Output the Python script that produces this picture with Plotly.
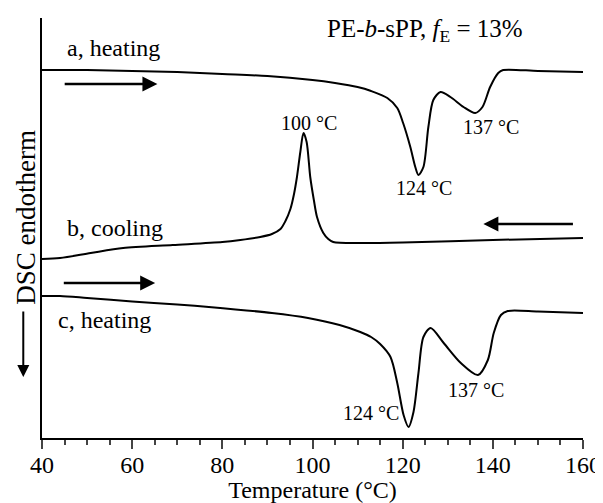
import plotly.graph_objects as go

# Curve a (heating) - temperature (°C) and DSC signal (arbitrary units)
a_T = [40, 50, 60, 70, 80, 90, 100, 105, 110, 113, 116.6, 118.8, 120.1, 121.7, 122.8, 123.5,
       124.6, 125.7, 126.8, 128.4, 130.6, 133.5, 136.1, 137.7, 139.4, 141.2, 142.3, 150, 160]
a_Y = [36.8, 36.8, 36.7, 36.6, 36.4, 36.2, 35.8, 35.5, 35.1, 34.7, 34.0, 33.0, 31.5, 29.1, 27.1, 26.3,
       27.1, 31.1, 33.8, 34.6, 34.1, 33.1, 32.5, 33.1, 35.1, 36.5, 36.8, 36.7, 36.6]

# Curve b (cooling)
b_T = [40, 44, 50.8, 58, 69, 80, 84, 88.4, 91, 92.9, 94, 95.1, 95.9, 96.55, 97.3, 98.0, 98.7, 99.5,
       100.3, 101, 102.4, 103.5, 104.6, 110.6, 120, 140, 160]
b_Y = [17.9, 18.0, 18.5, 19.0, 19.3, 19.6, 19.8, 20.1, 20.4, 20.9, 21.7, 22.9, 24.4, 26.1, 28.6, 30.5,
       29.6, 26.1, 23.8, 22.1, 20.5, 19.9, 19.6, 19.5, 19.55, 19.8, 20.0]

# Curve c (heating)
c_T = [40, 44, 50, 60, 70, 77, 91, 99, 106, 110.6, 113, 115, 117.3, 118.8, 120.2, 121.3, 122.4, 123.5,
       124.6, 126.2, 129.1, 132.9, 136.7, 138.9, 140.2, 141.8, 143.3, 150, 160]
c_Y = [14.2, 14.2, 14.0, 13.65, 13.35, 13.1, 12.5, 12.0, 11.3, 10.6, 10.1, 9.4, 8.1, 5.5, 2.3, 1.1, 2.6,
       6.5, 10.1, 11.0, 9.5, 7.5, 6.3, 7.8, 10.5, 12.3, 12.7, 12.65, 12.5]

x_ticks = [40, 60, 80, 100, 120, 140, 160]

FONT = "Liberation Serif"

fig = go.Figure()
for T, Y in [(a_T, a_Y), (b_T, b_Y), (c_T, c_Y)]:
    fig.add_trace(go.Scatter(x=T, y=Y, mode="lines",
                             line=dict(color="black", width=2, shape="spline", smoothing=0.8),
                             showlegend=False, hoverinfo="skip"))

# the page body adds an 8 px offset, so the figure is 8 px smaller with matching margins
fig.update_layout(
    width=595, height=495,
    margin=dict(l=34, r=20, t=10, b=65),
    paper_bgcolor="white", plot_bgcolor="white",
    font=dict(family=FONT, size=24, color="black"),
    xaxis=dict(range=[40, 160], tickvals=x_ticks, ticks="outside", ticklen=9, tickwidth=2,
               showline=True, linewidth=2, linecolor="black", showgrid=False, zeroline=False,
               automargin=False, ticklabelstandoff=-5,
               tickfont=dict(size=24), minor=dict(dtick=5, ticks="outside", ticklen=5, tickwidth=2,
                                                  showgrid=False),
               title=dict(text="Temperature (°C)", font=dict(size=24), standoff=2)),
    yaxis=dict(range=[0, 42], showline=True, linewidth=2, linecolor="black", showgrid=False,
               zeroline=False, showticklabels=False, ticks="", automargin=False),
)

def arrow(x0, x1, y):
    fig.add_annotation(x=x1, y=y, ax=x0, ay=y, xref="x", yref="y", axref="x", ayref="y",
                       text="", showarrow=True, arrowhead=2, arrowsize=1.2, arrowwidth=2.5,
                       arrowcolor="black")

arrow(44.7, 65.6, 35.4)
arrow(158.1, 137.9, 21.4)
arrow(44.5, 65.1, 15.5)

def label(text, x, y, size=24, anchor="left"):
    fig.add_annotation(x=x, y=y, xref="x", yref="y", text=text, showarrow=False,
                       xanchor=anchor, yanchor="middle", font=dict(family=FONT, size=size))

label("a, heating", 45.0, 39.0)
label("b, cooling", 45.0, 21.0)
label("c, heating", 43.2, 11.8)
label("100 °C", 99.2, 31.5, 20, "center")
label("124 °C", 124.7, 25.0, 20, "center")
label("137 °C", 139.5, 31.1, 20, "center")
label("124 °C", 113.0, 2.5, 20, "center")
label("137 °C", 136.2, 4.8, 20, "center")

fig.add_annotation(x=0.5225, y=0.971, xref="paper", yref="paper", xanchor="left",
                   yanchor="middle", showarrow=False,
                   text="PE-<i>b</i>-sPP, <i>f</i><sub>E</sub> = 13%",
                   font=dict(family=FONT, size=25))

# y-axis title with downward arrow
fig.add_annotation(x=-0.031, y=0.525, xref="paper", yref="paper", text="DSC endotherm",
                   textangle=-90, showarrow=False, xanchor="center", yanchor="middle",
                   font=dict(family=FONT, size=27))
fig.add_annotation(x=-0.0346, y=0.145, xref="paper", yref="paper",
                   ax=0, ay=-67, axref="pixel", ayref="pixel", text="", showarrow=True,
                   arrowhead=2, arrowsize=1.2, arrowwidth=2, arrowcolor="black")

fig.write_html("out.html")
